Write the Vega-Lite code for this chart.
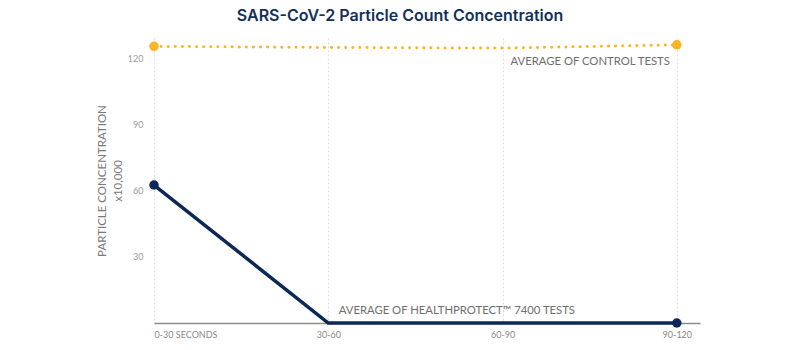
{
  "$schema": "https://vega.github.io/schema/vega-lite/v6.json",
  "width": 546,
  "height": 285,
  "autosize": "none",
  "padding": {"left": 154, "top": 38, "right": 100, "bottom": 27},
  "background": "white",
  "config": {"view": {"stroke": null}, "font": "Lato"},
  "title": {
    "text": "SARS-CoV-2 Particle Count Concentration",
    "font": "Inter",
    "fontSize": 16,
    "fontWeight": 600,
    "color": "#13305b",
    "anchor": "middle",
    "dx": -27,
    "offset": 14
  },
  "datasets": {
    "series": [
      {"slot": 0, "value": 125.7, "group": "control"},
      {"slot": 1, "value": 125.2, "group": "control"},
      {"slot": 2, "value": 124.9, "group": "control"},
      {"slot": 3, "value": 126.4, "group": "control"},
      {"slot": 0, "value": 62.7, "group": "hp"},
      {"slot": 1, "value": 0, "group": "hp"},
      {"slot": 2, "value": 0, "group": "hp"},
      {"slot": 3, "value": 0, "group": "hp"}
    ],
    "notes": [
      {"slot": 2.96, "value": 118.8, "label": "AVERAGE OF CONTROL TESTS", "align": "right"},
      {"slot": 1.06, "value": 5.5, "label": "AVERAGE OF HEALTHPROTECT™ 7400 TESTS", "align": "left"}
    ]
  },
  "encoding": {
    "x": {
      "field": "slot",
      "type": "quantitative",
      "scale": {"domain": [0, 3.133], "nice": false, "zero": false},
      "axis": {
        "title": null,
        "values": [0, 1, 2, 3],
        "labelExpr": "datum.value == 0 ? '0-30 SECONDS' : datum.value == 1 ? '30-60' : datum.value == 2 ? '60-90' : '90-120'",
        "labelAlign": {"condition": {"test": "datum.value == 0", "value": "left"}, "value": "center"},
        "labelFont": "Lato",
        "labelFontSize": 9,
        "labelColor": "#8a8a8a",
        "labelPadding": 7,
        "ticks": false,
        "domainColor": "#8c8c8c",
        "domainWidth": 1.5,
        "grid": true,
        "gridColor": "#dddddd",
        "gridDash": [2, 2],
        "gridWidth": 1
      }
    },
    "y": {
      "field": "value",
      "type": "quantitative",
      "scale": {"domain": [0, 129.5], "nice": false},
      "axis": {
        "title": ["PARTICLE CONCENTRATION", "x10,000"],
        "titleFont": "Lato",
        "titleFontSize": 11.5,
        "titleFontWeight": "normal",
        "titleColor": "#7a7a7a",
        "titlePadding": 4,
        "titleLineHeight": 16,
        "values": [30, 60, 90, 120],
        "labelFont": "Lato",
        "labelFontSize": 9,
        "labelColor": "#9a9a9a",
        "labelPadding": 11,
        "ticks": false,
        "domain": false,
        "grid": false
      }
    }
  },
  "layer": [
    {
      "data": {"name": "series"},
      "transform": [{"filter": "datum.group == 'control'"}],
      "mark": {"type": "line", "color": "#fbb424", "strokeWidth": 3, "strokeDash": [0.1, 7], "strokeCap": "round"}
    },
    {
      "data": {"name": "series"},
      "transform": [{"filter": "datum.group == 'hp'"}],
      "mark": {"type": "line", "color": "#0c2856", "strokeWidth": 3.5}
    },
    {
      "data": {"name": "series"},
      "transform": [{"filter": "datum.slot == 0 || datum.slot == 3"}],
      "mark": {"type": "circle", "size": 90, "opacity": 1},
      "encoding": {
        "color": {
          "field": "group",
          "type": "nominal",
          "scale": {"domain": ["control", "hp"], "range": ["#fbb424", "#0c2856"]},
          "legend": null
        }
      }
    },
    {
      "data": {"name": "notes"},
      "transform": [{"filter": "datum.align == 'right'"}],
      "mark": {"type": "text", "align": "right", "baseline": "middle", "font": "Lato", "fontSize": 11.3, "color": "#6e6e6e"},
      "encoding": {"text": {"field": "label"}}
    },
    {
      "data": {"name": "notes"},
      "transform": [{"filter": "datum.align == 'left'"}],
      "mark": {"type": "text", "align": "left", "baseline": "middle", "font": "Lato", "fontSize": 11.3, "color": "#6e6e6e"},
      "encoding": {"text": {"field": "label"}}
    }
  ]
}
